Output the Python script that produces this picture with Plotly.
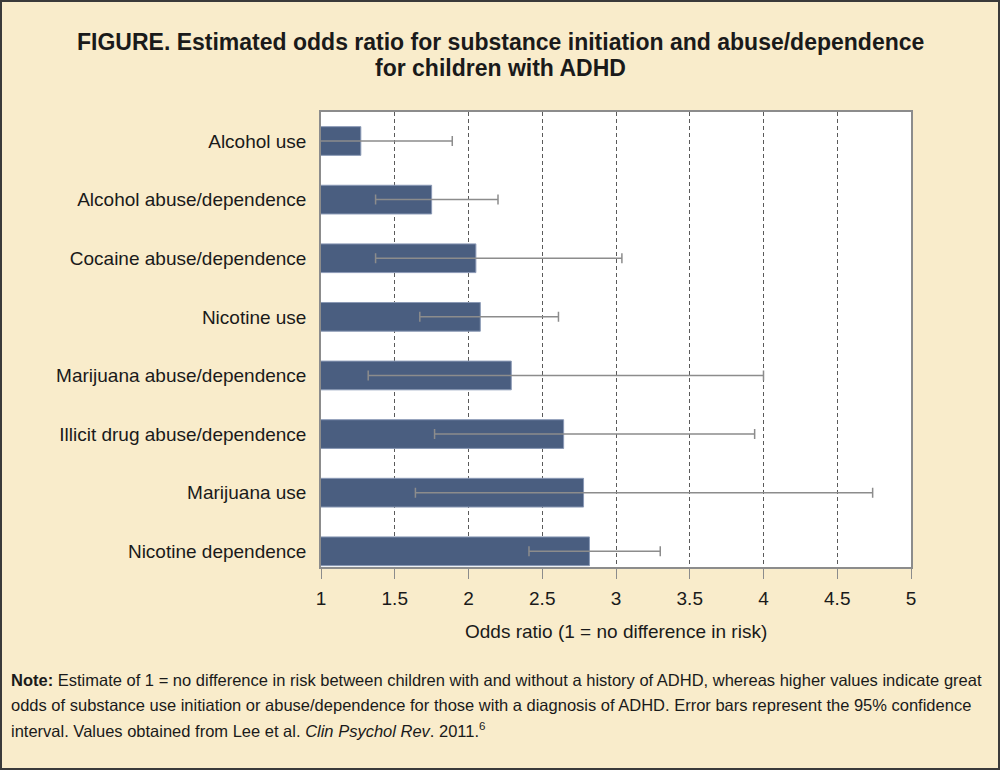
import plotly.graph_objects as go

categories = ["Alcohol use", "Alcohol abuse/dependence", "Cocaine abuse/dependence",
              "Nicotine use", "Marijuana abuse/dependence", "Illicit drug abuse/dependence",
              "Marijuana use", "Nicotine dependence"]
odds_ratio = [1.27, 1.75, 2.05, 2.08, 2.29, 2.645, 2.78, 2.82]
ci_low = [0.90, 1.37, 1.37, 1.67, 1.32, 1.77, 1.64, 2.41]
ci_high = [1.89, 2.20, 3.04, 2.61, 4.00, 3.94, 4.74, 3.30]
x_ticks = [1, 1.5, 2, 2.5, 3, 3.5, 4, 4.5, 5]
x_tick_labels = ["1", "1.5", "2", "2.5", "3", "3.5", "4", "4.5", "5"]

title_lines = ["FIGURE. Estimated odds ratio for substance initiation and abuse/dependence",
               "for children with ADHD"]
x_title = "Odds ratio (1 = no difference in risk)"
note_lines = [
    "<b>Note:</b> Estimate of 1 = no difference in risk between children with and without a history of ADHD, whereas higher values indicate great",
    "odds of substance use initiation or abuse/dependence for those with a diagnosis of ADHD. Error bars represent the 95% confidence",
    "interval. Values obtained from Lee et al. <i>Clin Psychol Rev</i>. 2011.<sup>6</sup>",
]

W, H = 1000, 770
ML, MR, MT, MB = 321, 89, 112, 203
PW, PH = W - ML - MR, H - MT - MB

ypos = list(range(len(categories)))
plus = [h - v for h, v in zip(ci_high, odds_ratio)]
minus = [v - l for v, l in zip(odds_ratio, ci_low)]

fig = go.Figure()
fig.add_trace(go.Bar(
    x=odds_ratio, y=ypos, orientation="h", width=0.49,
    marker=dict(color="#4A5E80", line=dict(color="#8A99B5", width=1)),
    error_x=dict(type="data", array=plus, arrayminus=minus, symmetric=False,
                 color="#8C8C8C", thickness=1.5, width=5),
    showlegend=False, hoverinfo="skip",
))

font_main = "Liberation Sans, Arial, sans-serif"

fig.update_layout(
    width=W, height=H,
    margin=dict(l=ML, r=MR, t=MT, b=MB, pad=0),
    paper_bgcolor="#F9ECCB", plot_bgcolor="#FFFFFF",
    font=dict(family=font_main, color="#1a1a1a", size=19),
    xaxis=dict(range=[1, 5], tickvals=x_ticks, ticktext=x_tick_labels,
               showgrid=True, gridcolor="#5a5a5a", griddash="4px,3px", gridwidth=1,
               showline=True, linecolor="#8C8C8C", linewidth=1.5, mirror=True,
               ticks="outside", ticklen=10, tickcolor="#8C8C8C", tickwidth=1,
               ticklabelstandoff=3,
               tickfont=dict(size=19, color="#1a1a1a"), zeroline=False),
    yaxis=dict(range=[7.268, -0.495], tickvals=ypos, ticktext=categories,
               showgrid=False, showline=True, linecolor="#8C8C8C", linewidth=1.5,
               mirror=True, ticks="", ticklabelstandoff=9,
               tickfont=dict(size=19, color="#1a1a1a"), zeroline=False),
)

def px_x(px):
    return (px - ML) / PW

def px_y(py):
    return (MT + PH - py) / PH

annotations = []
for i, line in enumerate(title_lines):
    annotations.append(dict(text="<b>" + line + "</b>", x=px_x(500), y=px_y(42 + 26 * i),
                            xanchor="center", yanchor="middle",
                            font=dict(size=23, family=font_main, color="#1a1a1a")))
annotations.append(dict(text=x_title, x=0.5, y=px_y(631), xanchor="center", yanchor="middle",
                        font=dict(size=19, family=font_main, color="#1a1a1a")))
for i, line in enumerate(note_lines):
    annotations.append(dict(text=line, x=px_x(9), y=px_y(680 + 25 * i),
                            xanchor="left", yanchor="middle", align="left",
                            font=dict(size=16.5, family=font_main, color="#1a1a1a")))
for a in annotations:
    a.update(xref="paper", yref="paper", showarrow=False)
fig.update_layout(annotations=annotations)

fig.add_shape(type="rect", xref="paper", yref="paper",
              x0=px_x(1), x1=px_x(999), y0=px_y(769), y1=px_y(1),
              line=dict(color="#3a3a3a", width=2), fillcolor="rgba(0,0,0,0)", layer="above")

fig.write_html("out.html", config={"displayModeBar": False},
               post_script="document.body.style.margin='0';document.body.style.overflow='hidden';")
